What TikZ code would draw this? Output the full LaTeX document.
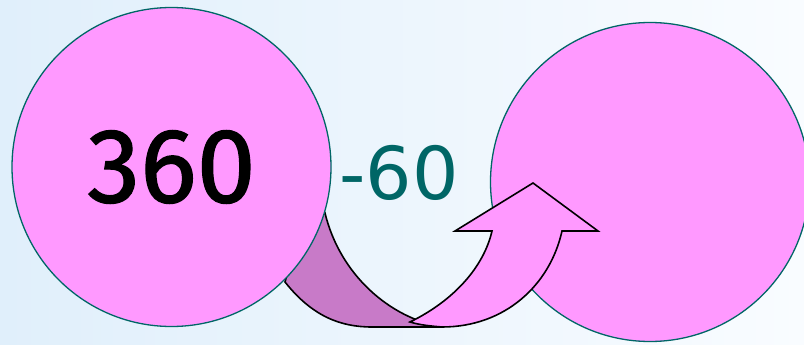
\documentclass[tikz,border=0pt]{standalone}
\usepackage{fontspec}
\setmainfont{DejaVu Sans}
\newfontfamily\digitfont[FakeBold=1.2]{Fira Sans}
\usepackage{tikz}
\usetikzlibrary{positioning}
\definecolor{bubblepink}{HTML}{FF99FF}
\definecolor{bandpurple}{HTML}{C87AC8}
\definecolor{tealline}{HTML}{006666}
\definecolor{skyleft}{HTML}{E0EFFB}
\definecolor{skymid}{HTML}{F2F8FE}
\definecolor{skyright}{HTML}{F9FCFF}
\tikzstyle{bubble} = [
    circle,
    draw=tealline,
    line width=1.3pt,
    fill=bubblepink,
    minimum size=319pt,
    inner sep=0pt
]
\tikzstyle{band} = [
    draw=black,
    line width=1.6pt,
    line join=miter
]

\begin{document}
\begin{tikzpicture}[x=1pt, y=-1pt]
        % Background
        \useasboundingbox (0,0) rectangle (804,345);
        \shade[left color=skyleft, middle color=skymid, right color=skyright] (0,0) rectangle (804,345);

        % Back of the ribbon (behind the first circle)
        \path[band, fill=bandpurple]
            (285,282) .. controls (312,316) and (340,327) .. (372,327)
            -- (442,327)
            .. controls (390,318) and (340,275) .. (325,213)
            -- (300,230) -- cycle;

        % Circles
        \node[bubble, font=\digitfont\fontsize{106}{110}\selectfont] (start) at (171.5,167) {360};
        \node[bubble] (result) at (650,182) {};

        % Amount taken away
        \node[text=tealline, font=\fontsize{73}{80}\selectfont, inner sep=0pt] (minus) at (399,173) {-60};

        % Front of the ribbon with arrow head
        \path[band, fill=bubblepink]
            (410,322) .. controls (455,300) and (484,266) .. (492,231)
            -- (455,231) -- (533,183) -- (598,231) -- (562,231)
            .. controls (550,285) and (505,327) .. (442,327)
            .. controls (430,326) and (420,325) .. (410,322) -- cycle;
    \end{tikzpicture}
\end{document}
